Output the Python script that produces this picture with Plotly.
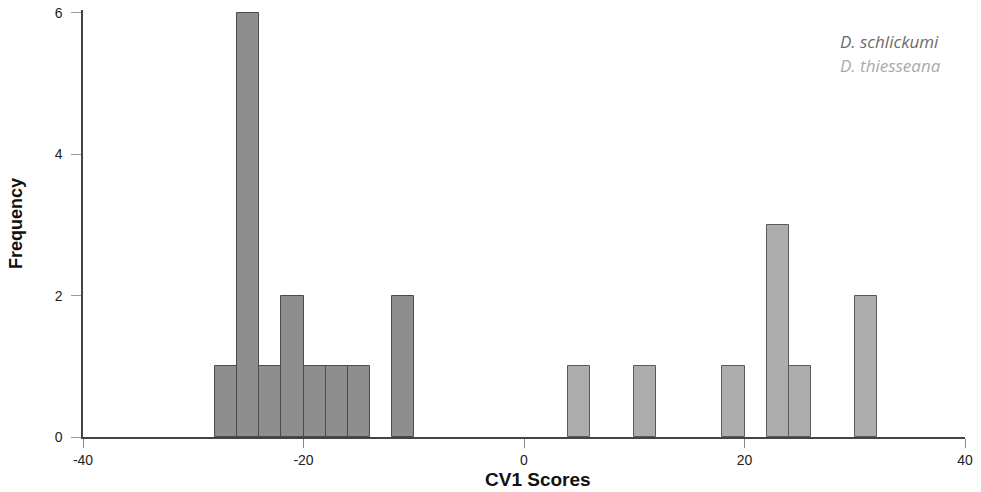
import plotly.graph_objects as go

# Histogram bins (width 2) and counts
bin_width = 2
schlickumi_bin_starts = [-28, -26, -24, -22, -20, -18, -16, -12]
schlickumi_counts = [1, 6, 1, 2, 1, 1, 1, 2]
thiesseana_bin_starts = [4, 10, 18, 22, 24, 30]
thiesseana_counts = [1, 1, 1, 3, 1, 2]

x_ticks = [-40, -20, 0, 20, 40]
y_ticks = [0, 2, 4, 6]
series_names = ["D. schlickumi", "D. thiesseana"]

fig = go.Figure()
fig.add_trace(go.Bar(
    x=[s + bin_width / 2 for s in schlickumi_bin_starts],
    y=schlickumi_counts, width=bin_width,
    marker=dict(color="#8e8e8e", line=dict(color="#4a4a4a", width=1)),
    name=series_names[0], showlegend=False,
))
fig.add_trace(go.Bar(
    x=[s + bin_width / 2 for s in thiesseana_bin_starts],
    y=thiesseana_counts, width=bin_width,
    marker=dict(color="#adadad", line=dict(color="#5a5a5a", width=1)),
    name=series_names[1], showlegend=False,
))

fig.add_annotation(x=0.856, y=0.927, xref="paper", yref="paper", xanchor="left", yanchor="middle",
                   text="<i>" + series_names[0] + "</i>", showarrow=False,
                   font=dict(family="Open Sans, sans-serif", size=17, color="#6b6b6b"))
fig.add_annotation(x=0.856, y=0.871, xref="paper", yref="paper", xanchor="left", yanchor="middle",
                   text="<i>" + series_names[1] + "</i>", showarrow=False,
                   font=dict(family="Open Sans, sans-serif", size=17, color="#aaaaaa"))
# x-axis title (placed slightly right of centre, as in the reference)
fig.add_annotation(x=0.516, y=-0.1007, xref="paper", yref="paper", xanchor="center", yanchor="middle",
                   text="<b>CV1 Scores</b>", showarrow=False,
                   font=dict(family="Liberation Sans, Arial, sans-serif", size=19, color="#111111"))

fig.update_layout(
    width=981, height=492,
    margin=dict(l=83, r=16, t=10, b=55, autoexpand=False),
    paper_bgcolor="white", plot_bgcolor="white",
    barmode="overlay", bargap=0,
    font=dict(family="Liberation Sans, Arial, sans-serif", size=14, color="#222222"),
    xaxis=dict(
        range=[-40, 40], tickvals=x_ticks, ticktext=[str(v) for v in x_ticks],
        showgrid=False, zeroline=False, showline=True, linecolor="#444444", linewidth=1.5,
        ticks="outside", ticklen=9, tickcolor="#888888", tickwidth=1, automargin=False,
    ),
    yaxis=dict(
        range=[0, 6.04], tickvals=y_ticks, ticktext=[str(v) for v in y_ticks],
        showgrid=False, zeroline=False, showline=True, linecolor="#444444", linewidth=1.5,
        ticks="outside", ticklen=10, tickcolor="#999999", tickwidth=1, automargin=False,
        ticklabelstandoff=6,
        title=dict(text="<b>Frequency</b>", font=dict(size=18, color="#111111"), standoff=27),
    ),
)

fig.write_html("out.html", config={"displayModeBar": False},
               post_script="document.body.style.margin='0';")
